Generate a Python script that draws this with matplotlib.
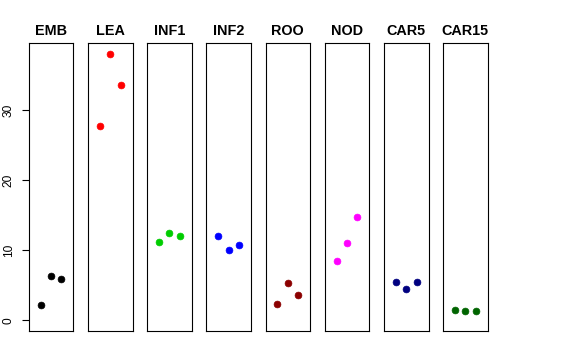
import matplotlib
matplotlib.use("Agg")
import matplotlib.pyplot as plt

groups = ["EMB", "LEA", "INF1", "INF2", "ROO", "NOD", "CAR5", "CAR15"]
values = {
    "EMB":   [2.14, 6.29, 5.95],
    "LEA":   [27.7, 38.04, 33.6],
    "INF1":  [11.14, 12.52, 12.05],
    "INF2":  [12.1, 10.0, 10.8],
    "ROO":   [2.33, 5.38, 3.67],
    "NOD":   [8.48, 11.05, 14.67],
    "CAR5":  [5.48, 4.43, 5.48],
    "CAR15": [1.52, 1.38, 1.29],
}
colors = ["#000000", "#FF0000", "#00CD00", "#0000FF", "#8B0000", "#FF00FF", "#000080", "#006400"]
yticks = [0, 10, 20, 30]
xpos = [1, 2, 3]

plt.rcParams['font.family'] = ['Liberation Sans', 'DejaVu Sans']

W, H = 576, 360
fig = plt.figure(figsize=(W / 100, H / 100), dpi=100)

ymax = max(max(v) for v in values.values())
ymin = 0.0
ext = 0.04 * (ymax - ymin)

left0 = 28.7
pitch = 59.2
pw = 44.6
top_px, bot_px = 43, 331

for i, (g, c) in enumerate(zip(groups, colors)):
    l = left0 + i * pitch
    ax = fig.add_axes([l / W, 1 - bot_px / H, pw / W, (bot_px - top_px) / H])
    ax.scatter(xpos, values[g], s=24, color=c, edgecolors=c, linewidths=0.5, zorder=3)
    ax.set_xlim(-0.16, 4.16)
    ax.set_ylim(ymin - ext, ymax + ext)
    ax.set_xticks([])
    for s in ax.spines.values():
        s.set_linewidth(0.8)
        s.set_color("black")
    ax.set_title(g, fontsize=10.4, fontweight="bold", pad=6)
    if i == 0:
        ax.set_yticks(yticks)
        ax.set_yticklabels([str(t) for t in yticks], rotation=90, va="center", fontsize=8.6)
        ax.tick_params(axis="y", length=5, width=0.8, pad=5)
    else:
        ax.set_yticks([])

fig.savefig("out.png", dpi=100)
